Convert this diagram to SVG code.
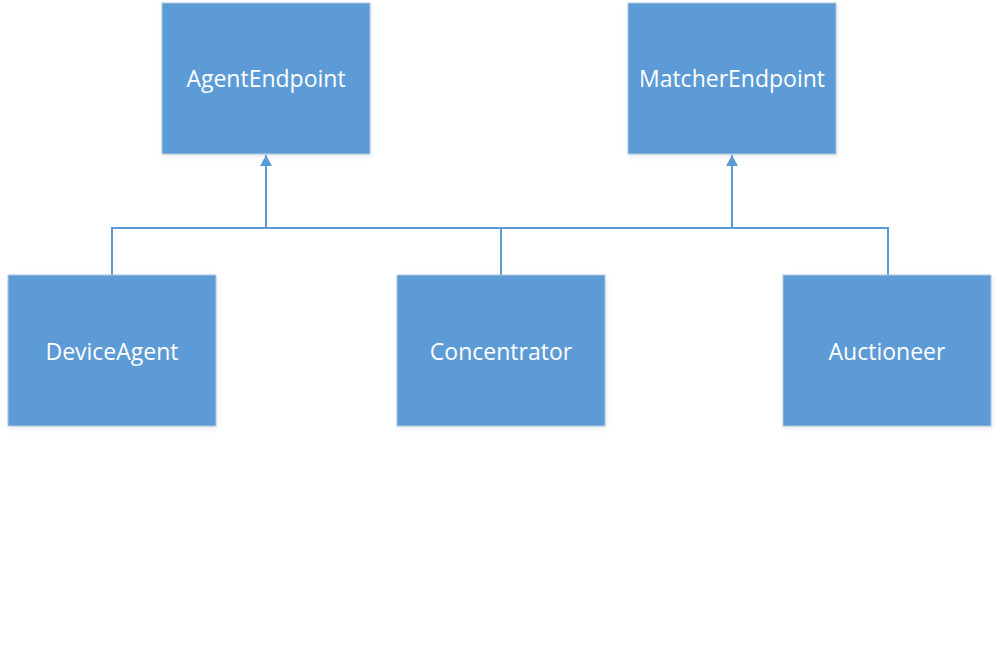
<svg xmlns="http://www.w3.org/2000/svg" width="1001" height="666" viewBox="0 0 1001 666">
<style>
.box{fill:#5B9BD5;stroke:#B4C7DC;stroke-width:1}
.lbl{fill:#FFFFFF;font-family:"Open Sans","Noto Sans",sans-serif;font-size:23px;text-anchor:middle;dominant-baseline:central}
.conn{fill:none;stroke:#5B9BD5;stroke-width:2}
</style>
<defs>
<marker id="tri" markerWidth="12" markerHeight="14" refX="11" refY="6" orient="auto" markerUnits="userSpaceOnUse">
<path d="M0,0 L11,6 L0,12 Z" fill="#5B9BD5"/>
</marker>
<filter id="sh" x="-5%" y="-5%" width="115%" height="115%">
<feDropShadow dx="1" dy="2" stdDeviation="2" flood-color="#9ab" flood-opacity="0.25"/>
</filter>
</defs>
<rect width="1001" height="666" fill="#FFFFFF"/>
<g id="connectors">
<path class="conn" d="M112,275 V228 H888 V275"/>
<path class="conn" d="M501,275 V228"/>
<path class="conn" d="M266,228 V155" marker-end="url(#tri)"/>
<path class="conn" d="M732,228 V155" marker-end="url(#tri)"/>
</g>
<g id="AgentEndpoint"><rect class="box" filter="url(#sh)" x="162" y="3" width="208" height="151"/><text class="lbl" x="266" y="78">AgentEndpoint</text></g>
<g id="MatcherEndpoint"><rect class="box" filter="url(#sh)" x="628" y="3" width="208" height="151"/><text class="lbl" x="732" y="78">MatcherEndpoint</text></g>
<g id="DeviceAgent"><rect class="box" filter="url(#sh)" x="8" y="275" width="208" height="151"/><text class="lbl" x="112" y="351">DeviceAgent</text></g>
<g id="Concentrator"><rect class="box" filter="url(#sh)" x="397" y="275" width="208" height="151"/><text class="lbl" x="501" y="351">Concentrator</text></g>
<g id="Auctioneer"><rect class="box" filter="url(#sh)" x="783" y="275" width="208" height="151"/><text class="lbl" x="887" y="351">Auctioneer</text></g>
</svg>
